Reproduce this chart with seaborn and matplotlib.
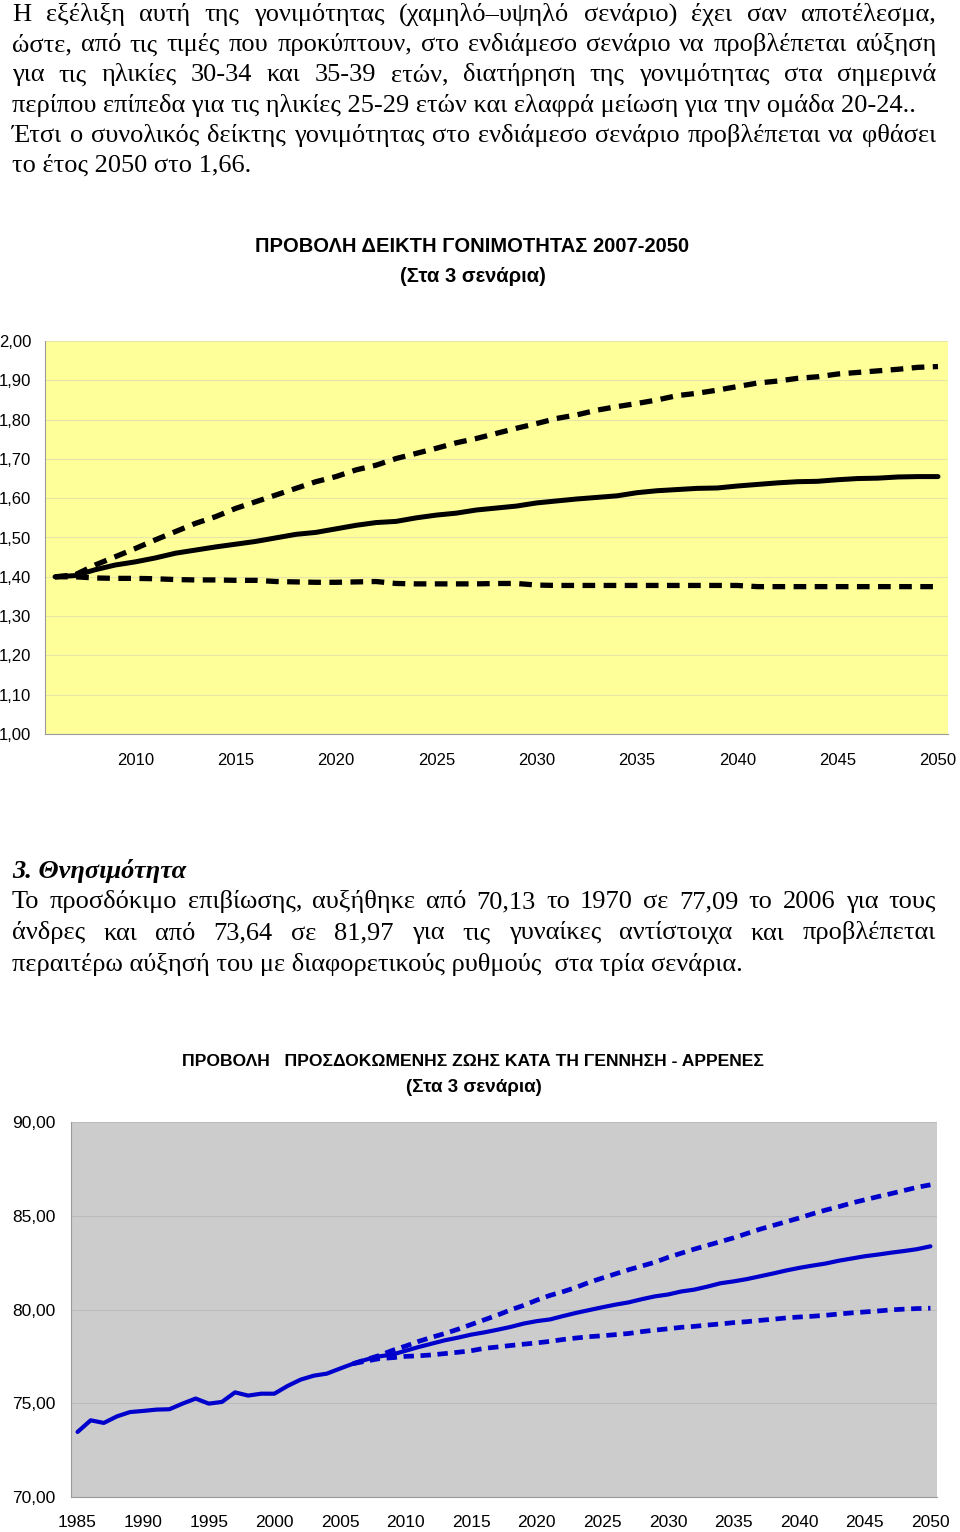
import matplotlib
matplotlib.use("Agg")
import matplotlib.pyplot as plt
from matplotlib.ticker import FuncFormatter
import numpy as np
import seaborn as sns

W, H = 960, 1532

# fertility projection (total fertility rate), three scenarios
tfr_years = list(range(2006, 2051))
tfr_medium = [1.400, 1.403, 1.418, 1.430, 1.438, 1.448, 1.460, 1.468, 1.476, 1.483,
              1.490, 1.499, 1.508, 1.513, 1.522, 1.531, 1.538, 1.541, 1.550, 1.557,
              1.562, 1.570, 1.575, 1.580, 1.588, 1.593, 1.598, 1.602, 1.606, 1.614,
              1.619, 1.622, 1.625, 1.626, 1.631, 1.635, 1.639, 1.642, 1.643, 1.647,
              1.650, 1.651, 1.654, 1.655, 1.655]
tfr_high = [1.400, 1.405, 1.430, 1.451, 1.472, 1.494, 1.515, 1.536, 1.553, 1.574,
            1.591, 1.608, 1.625, 1.642, 1.655, 1.672, 1.684, 1.701, 1.714, 1.727,
            1.741, 1.752, 1.765, 1.778, 1.790, 1.803, 1.812, 1.824, 1.833, 1.841,
            1.850, 1.861, 1.867, 1.875, 1.884, 1.893, 1.898, 1.905, 1.909, 1.916,
            1.920, 1.924, 1.928, 1.933, 1.935]
tfr_low = [1.400, 1.400, 1.397, 1.396, 1.396, 1.395, 1.393, 1.392, 1.392, 1.391,
           1.391, 1.388, 1.387, 1.386, 1.386, 1.387, 1.388, 1.383, 1.382, 1.382,
           1.382, 1.382, 1.383, 1.383, 1.379, 1.378, 1.378, 1.378, 1.378, 1.378,
           1.378, 1.378, 1.378, 1.378, 1.378, 1.375, 1.375, 1.375, 1.375, 1.375,
           1.375, 1.375, 1.375, 1.375, 1.375]

# life expectancy at birth, males
le_years = list(range(1985, 2051))
le_medium = [73.47, 74.09, 73.95, 74.30, 74.53, 74.59, 74.66, 74.68, 74.98, 75.25,
             74.98, 75.07, 75.58, 75.41, 75.51, 75.51, 75.92, 76.26, 76.47, 76.58,
             76.85, 77.11, 77.33, 77.50, 77.60, 77.80, 78.00, 78.18, 78.36, 78.50,
             78.66, 78.78, 78.92, 79.07, 79.25, 79.38, 79.47, 79.65, 79.82, 79.97,
             80.12, 80.26, 80.38, 80.55, 80.70, 80.80, 80.96, 81.06, 81.22, 81.40,
             81.50, 81.62, 81.77, 81.92, 82.08, 82.22, 82.34, 82.45, 82.60, 82.72,
             82.84, 82.93, 83.03, 83.12, 83.22, 83.37]
le_proj_years = list(range(2006, 2051))
le_high = [77.11, 77.33, 77.55, 77.82, 78.05, 78.30, 78.52, 78.72, 78.95, 79.20,
           79.45, 79.70, 79.98, 80.22, 80.50, 80.75, 80.95, 81.18, 81.45, 81.68,
           81.90, 82.12, 82.32, 82.52, 82.78, 83.00, 83.22, 83.42, 83.62, 83.82,
           84.05, 84.28, 84.48, 84.68, 84.88, 85.10, 85.30, 85.48, 85.68, 85.85,
           86.02, 86.18, 86.35, 86.52, 86.65]
le_low = [77.11, 77.25, 77.38, 77.43, 77.50, 77.53, 77.58, 77.65, 77.72, 77.80,
          77.93, 78.00, 78.08, 78.15, 78.22, 78.30, 78.40, 78.48, 78.55, 78.60,
          78.66, 78.72, 78.82, 78.90, 78.97, 79.05, 79.10, 79.17, 79.23, 79.30,
          79.35, 79.42, 79.48, 79.55, 79.60, 79.64, 79.69, 79.76, 79.82, 79.87,
          79.92, 79.98, 80.02, 80.05, 80.07]

para1 = [
    ("Η εξέλιξη αυτή της γονιμότητας (χαμηλό–υψηλό σενάριο) έχει σαν αποτέλεσμα,", True),
    ("ώστε, από τις τιμές που προκύπτουν, στο ενδιάμεσο σενάριο να προβλέπεται αύξηση", True),
    ("για τις ηλικίες 30-34 και 35-39 ετών, διατήρηση της γονιμότητας στα σημερινά", True),
    ("περίπου επίπεδα για τις ηλικίες 25-29 ετών και ελαφρά μείωση για την ομάδα 20-24..", False),
    ("Έτσι ο συνολικός δείκτης γονιμότητας στο ενδιάμεσο σενάριο προβλέπεται να φθάσει", True),
    ("το έτος 2050 στο 1,66.", False),
]
para2 = [
    ("Το προσδόκιμο επιβίωσης,  αυξήθηκε από 70,13 το 1970 σε 77,09 το 2006 για τους", True),
    ("άνδρες και από 73,64 σε 81,97 για τις γυναίκες αντίστοιχα και προβλέπεται", True),
    ("περαιτέρω αύξησή του με διαφορετικούς ρυθμούς  στα τρία σενάρια.", False),
]

sns.set_style("white")
plt.rcParams["font.family"] = ["Liberation Sans", "DejaVu Sans"]
plt.rcParams["text.color"] = "black"
plt.rcParams["xtick.labelcolor"] = "black"
plt.rcParams["ytick.labelcolor"] = "black"

fig = plt.figure(figsize=(W / 100, H / 100), dpi=100)
renderer = fig.canvas.get_renderer()

X0, X1 = 12, 936
SERIF = ["Liberation Serif", "DejaVu Serif"]
BODY = 19


def fx(x):
    return x / W


def fy(y):
    return 1 - y / H


def write_line(text, y, justify, size=BODY, **kw):
    if not justify:
        fig.text(fx(X0), fy(y), text, va="baseline", ha="left",
                 fontsize=size, family=SERIF, **kw)
        return
    words = text.split()
    objs = [fig.text(0, fy(y), w, va="baseline", ha="left",
                     fontsize=size, family=SERIF, **kw) for w in words]
    widths = [o.get_window_extent(renderer).width for o in objs]
    gap = (X1 - X0 - sum(widths)) / (len(words) - 1)
    x = X0
    for o, w in zip(objs, widths):
        o.set_x(fx(x))
        x += w + gap


def comma_fmt(v, _):
    return f"{v:.2f}".replace(".", ",")


for i, (line, just) in enumerate(para1):
    write_line(line, 21 + 30.2 * i, just)

fig.text(fx(X0), fy(878), "3. Θνησιμότητα", va="baseline", ha="left",
         fontsize=BODY, family=SERIF, fontweight="bold", fontstyle="italic")
for i, (line, just) in enumerate(para2):
    write_line(line, 908 + 31.5 * i, just)

# chart 1: fertility
fig.text(fx(472), fy(247), "ΠΡΟΒΟΛΗ ΔΕΙΚΤΗ ΓΟΝΙΜΟΤΗΤΑΣ 2007-2050", ha="center", va="center",
         fontsize=14.5, fontweight="bold")
fig.text(fx(473), fy(276), "(Στα 3 σενάρια)", ha="center", va="center",
         fontsize=14.5, fontweight="bold")

ax1 = fig.add_axes([fx(45), fy(734), (948 - 45) / W, (734 - 341) / H])
ax1.set_facecolor("#FFFF99")
sns.lineplot(x=tfr_years, y=tfr_low, ax=ax1, color="black", linewidth=3.8,
             linestyle=(0, (2.4, 1.6)), dash_capstyle="butt")
sns.lineplot(x=tfr_years, y=tfr_high, ax=ax1, color="black", linewidth=3.8,
             linestyle=(0, (2.4, 1.6)), dash_capstyle="butt")
sns.lineplot(x=tfr_years, y=tfr_medium, ax=ax1, color="black", linewidth=3.6,
             solid_capstyle="round")
ax1.set_xlim(2005.5, 2050.5)
ax1.set_ylim(1.0, 2.0)
ax1.set_xticks(range(2010, 2051, 5))
ax1.set_xticks(np.arange(2005.5, 2051, 1), minor=True)
ax1.set_yticks(np.arange(1.0, 2.001, 0.1))
ax1.yaxis.set_major_formatter(FuncFormatter(comma_fmt))
ax1.tick_params(axis="x", which="major", length=0, pad=14, labelsize=12)
ax1.tick_params(axis="x", which="minor", length=5, color="#9A9A9A", width=0.8)
ax1.tick_params(axis="y", length=5, pad=5, color="#9A9A9A", width=0.8, labelsize=12)
ax1.grid(axis="y", color="#E6E6A8", linewidth=0.8)
ax1.set_axisbelow(True)
for s in ["top", "right"]:
    ax1.spines[s].set_visible(False)
for s in ["left", "bottom"]:
    ax1.spines[s].set_color("#9A9A9A")
    ax1.spines[s].set_linewidth(0.8)

# chart 2: life expectancy, males
fig.text(fx(473), fy(1062), "ΠΡΟΒΟΛΗ   ΠΡΟΣΔΟΚΩΜΕΝΗΣ ΖΩΗΣ ΚΑΤΑ ΤΗ ΓΕΝΝΗΣΗ - ΑΡΡΕΝΕΣ",
         ha="center", va="center", fontsize=12.6, fontweight="bold")
fig.text(fx(474), fy(1088), "(Στα 3 σενάρια)", ha="center", va="center",
         fontsize=13.5, fontweight="bold")

ax2 = fig.add_axes([fx(71), fy(1497), (937 - 71) / W, (1497 - 1122) / H])
ax2.set_facecolor("#CCCCCC")
sns.lineplot(x=le_years, y=le_medium, ax=ax2, color="#0000CC", linewidth=3.0,
             solid_capstyle="round")
sns.lineplot(x=le_proj_years, y=le_high, ax=ax2, color="#0000CC", linewidth=3.4,
             linestyle=(0, (2.2, 1.4)), dash_capstyle="butt")
sns.lineplot(x=le_proj_years, y=le_low, ax=ax2, color="#0000CC", linewidth=3.4,
             linestyle=(0, (2.2, 1.4)), dash_capstyle="butt")
ax2.set_xlim(1984.5, 2050.5)
ax2.set_ylim(70, 90)
ax2.set_xticks(range(1985, 2051, 5))
ax2.set_xticks(np.arange(1984.5, 2051, 1), minor=True)
ax2.set_yticks([70, 75, 80, 85, 90])
ax2.yaxis.set_major_formatter(FuncFormatter(comma_fmt))
ax2.tick_params(axis="x", which="major", length=0, pad=13, labelsize=12.5)
ax2.tick_params(axis="x", which="minor", length=5, color="#9A9A9A", width=0.8)
ax2.tick_params(axis="y", length=5, pad=6, color="#9A9A9A", width=0.8, labelsize=12.5)
ax2.grid(axis="y", color="#BBBBBB", linewidth=0.8)
ax2.set_axisbelow(True)
for s in ["top", "right"]:
    ax2.spines[s].set_visible(False)
for s in ["left", "bottom"]:
    ax2.spines[s].set_color("#9A9A9A")
    ax2.spines[s].set_linewidth(0.8)

fig.savefig("out.png", dpi=100)
